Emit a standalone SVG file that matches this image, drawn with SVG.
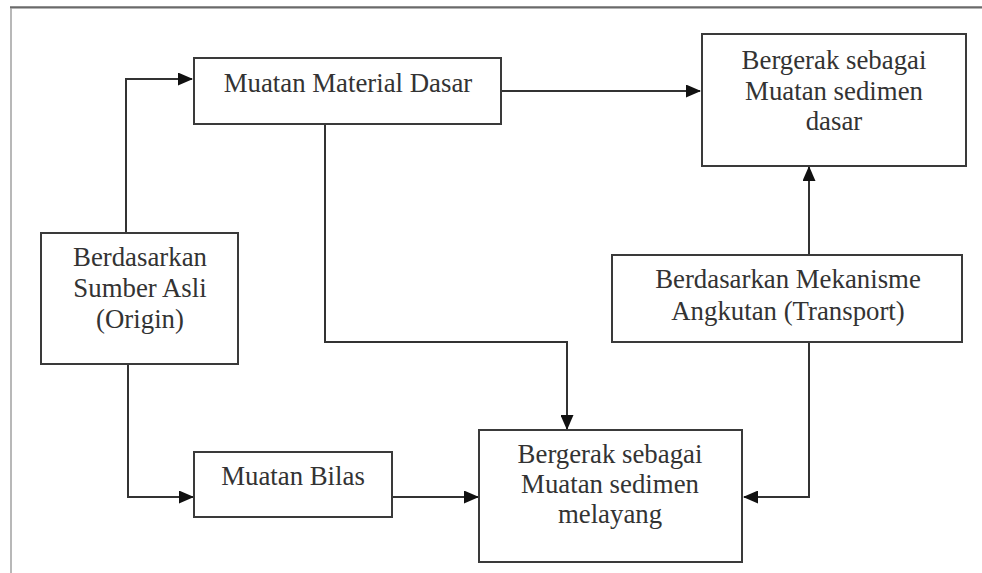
<svg xmlns="http://www.w3.org/2000/svg" width="982" height="573" viewBox="0 0 982 573">
<style>
.box{fill:#fff;stroke:#3a3a3a;stroke-width:2}
.t{font-family:"Liberation Serif","Times New Roman",serif;font-size:26.8px;fill:#333;text-anchor:middle}
.c{fill:none;stroke:#333;stroke-width:2}
</style>
<defs>
<marker id="ah" markerWidth="15" markerHeight="13" refX="14" refY="6.5" orient="auto" markerUnits="userSpaceOnUse">
<path d="M0,0 L15,6.5 L0,13 Z" fill="#111"/>
</marker>
</defs>
<rect width="982" height="573" fill="#fff"/>
<line x1="10" y1="7.3" x2="982" y2="7.3" stroke="#6a6a6a" stroke-width="2.2"/>
<line x1="11" y1="8" x2="11" y2="573" stroke="#a0a0a0" stroke-width="1.5"/>
<g id="connectors">
<path class="c" d="M126,233 V79 H192" marker-end="url(#ah)"/>
<path class="c" d="M501,91 H700" marker-end="url(#ah)"/>
<path class="c" d="M325,124 V342 H567 V429" marker-end="url(#ah)"/>
<path class="c" d="M128,364 V497 H193" marker-end="url(#ah)"/>
<path class="c" d="M392,497 H478" marker-end="url(#ah)"/>
<path class="c" d="M809,255 V167" marker-end="url(#ah)"/>
<path class="c" d="M809,342 V497 H744" marker-end="url(#ah)"/>
</g>
<g id="muatan-material-dasar">
<rect class="box" x="194" y="58" width="307" height="66"/>
<text class="t" x="348" y="92">Muatan Material Dasar</text>
</g>
<g id="sedimen-dasar">
<rect class="box" x="702" y="34" width="264" height="132"/>
<text class="t" x="834" y="69">Bergerak sebagai</text>
<text class="t" x="834" y="100">Muatan sedimen</text>
<text class="t" x="834" y="130">dasar</text>
</g>
<g id="origin">
<rect class="box" x="41" y="233" width="197" height="131"/>
<text class="t" x="140" y="266">Berdasarkan</text>
<text class="t" x="140" y="297">Sumber Asli</text>
<text class="t" x="140" y="328">(Origin)</text>
</g>
<g id="transport">
<rect class="box" x="612" y="255" width="350" height="87"/>
<text class="t" x="788" y="288">Berdasarkan Mekanisme</text>
<text class="t" x="788" y="320">Angkutan (Transport)</text>
</g>
<g id="muatan-bilas">
<rect class="box" x="194" y="452" width="198" height="65"/>
<text class="t" x="293" y="485">Muatan Bilas</text>
</g>
<g id="sedimen-melayang">
<rect class="box" x="479" y="430" width="263" height="132"/>
<text class="t" x="610" y="463">Bergerak sebagai</text>
<text class="t" x="610" y="493">Muatan sedimen</text>
<text class="t" x="610" y="523">melayang</text>
</g>
</svg>
